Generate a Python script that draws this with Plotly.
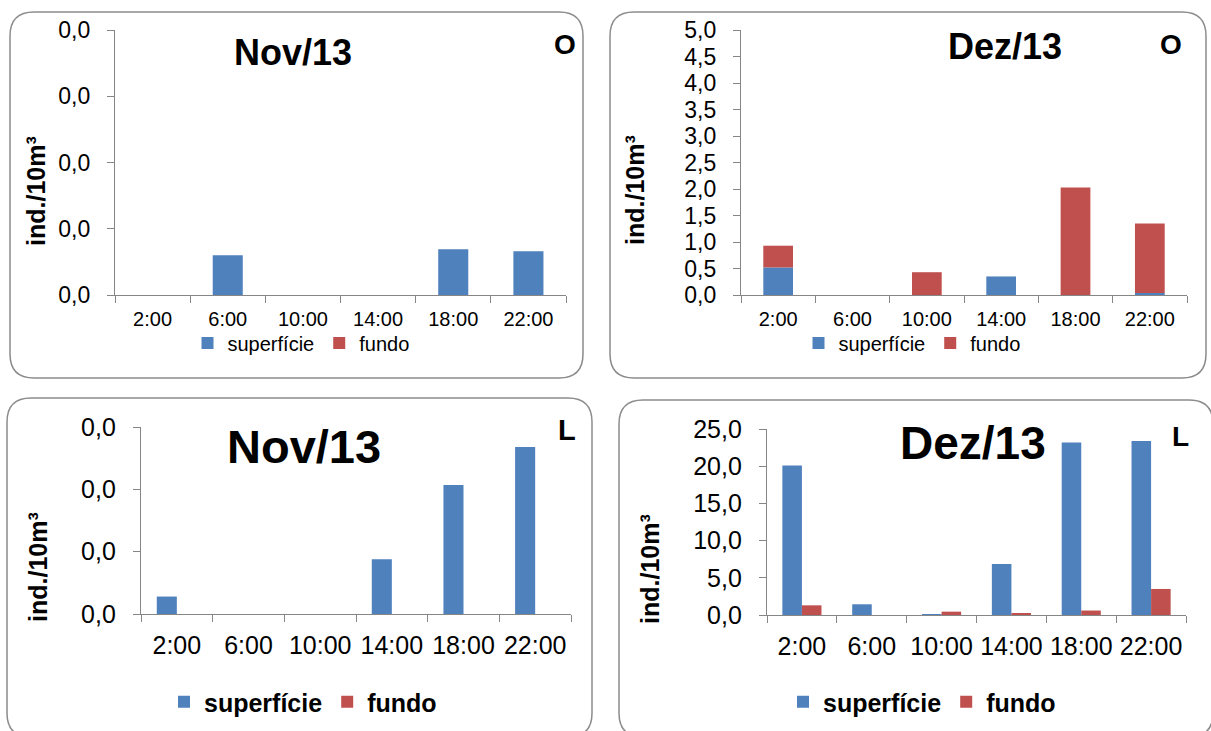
import plotly.graph_objects as go

W, H = 1211, 731
FONT = "Liberation Sans, Arial, sans-serif"
AXIS_GRAY = "#868686"
BLUE = "#4F81BD"
RED = "#C0504D"

horarios = ["2:00", "6:00", "10:00", "14:00", "18:00", "22:00"]
series_names = ["superfície", "fundo"]

# Nov/13 - O (stacked)
nov_o_superficie = [0, 0.0060, 0, 0, 0.0069, 0.0066]
nov_o_fundo = [0, 0, 0, 0, 0, 0]
# Dez/13 - O (stacked)
dez_o_superficie = [0.52, 0, 0, 0.35, 0, 0.04]
dez_o_fundo = [0.41, 0, 0.43, 0, 2.03, 1.31]
# Nov/13 - L (clustered)
nov_l_superficie = [0.0028, 0, 0, 0.0088, 0.0207, 0.0268]
nov_l_fundo = [0, 0, 0, 0, 0, 0]
# Dez/13 - L (clustered)
dez_l_superficie = [20.1, 1.44, 0.1, 6.87, 23.2, 23.4]
dez_l_fundo = [1.3, 0, 0.45, 0.25, 0.6, 3.5]


def px(x):
    return x / W


def py(y):
    return 1 - y / H


panels = [
    dict(sup=nov_o_superficie, fun=nov_o_fundo, stacked=True,
         xdom=(115, 566), ydom=(30, 295), yrange=(0, 0.04), dtick=0.01,
         title="Nov/13", title_xy=(293, 53), title_size=36,
         tag="O", tag_xy=(565, 45), tag_size=28,
         ytitle_xy=(36, 191), ytitle_size=25,
         legend_xy=(301, 343), legend_size=20, legend_bold=False,
         ytick_size=23, xtick_size=20, xstandoff=6),
    dict(sup=dez_o_superficie, fun=dez_o_fundo, stacked=True,
         xdom=(741, 1187), ydom=(30, 295), yrange=(0, 5), dtick=0.5,
         title="Dez/13", title_xy=(1005, 47), title_size=36,
         tag="O", tag_xy=(1171, 45), tag_size=28,
         ytitle_xy=(635, 190), ytitle_size=25,
         legend_xy=(912, 343), legend_size=20, legend_bold=False,
         ytick_size=23, xtick_size=20, xstandoff=6),
    dict(sup=nov_l_superficie, fun=nov_l_fundo, stacked=False,
         xdom=(141, 571), ydom=(427, 614), yrange=(0, 0.03), dtick=0.01,
         title="Nov/13", title_xy=(304, 446), title_size=47,
         tag="L", tag_xy=(567, 430), tag_size=29,
         ytitle_xy=(38, 567), ytitle_size=25,
         legend_xy=(303, 702), legend_size=25, legend_bold=True,
         ytick_size=25, xtick_size=25, xstandoff=9),
    dict(sup=dez_l_superficie, fun=dez_l_fundo, stacked=False,
         xdom=(767, 1186), ydom=(429, 615), yrange=(0, 25), dtick=5,
         title="Dez/13", title_xy=(973, 443), title_size=46,
         tag="L", tag_xy=(1180, 436), tag_size=28,
         ytitle_xy=(650, 569), ytitle_size=25,
         legend_xy=(922, 702), legend_size=25, legend_bold=True,
         ytick_size=25, xtick_size=25, xstandoff=9),
]

fig = go.Figure()
layout = dict(
    width=W, height=H,
    margin=dict(l=0, r=0, t=0, b=0, autoexpand=False),
    paper_bgcolor="white", plot_bgcolor="white",
    barmode="overlay",
    separators=",.",
    showlegend=True,
    annotations=[], shapes=[],
)

for i, p in enumerate(panels, start=1):
    xa = "x" if i == 1 else f"x{i}"
    ya = "y" if i == 1 else f"y{i}"
    lg = "legend" if i == 1 else f"legend{i}"

    if p["stacked"]:
        geo = [dict(width=0.4, offset=-0.2, base=None),
               dict(width=0.4, offset=-0.2, base=p["sup"])]
    else:
        geo = [dict(width=0.28, offset=-0.28, base=None),
               dict(width=0.28, offset=0.0, base=None)]

    for name, vals, color, g in zip(series_names, [p["sup"], p["fun"]],
                                    [BLUE, RED], geo):
        fig.add_trace(go.Bar(
            x=horarios, y=vals, name=name,
            xaxis=xa, yaxis=ya, legend=lg,
            marker=dict(color=color, line=dict(width=0)),
            width=g["width"], offset=g["offset"], base=g["base"],
            hoverinfo="x+y+name",
        ))

    xkey = "xaxis" if i == 1 else f"xaxis{i}"
    ykey = "yaxis" if i == 1 else f"yaxis{i}"
    layout[xkey] = dict(
        domain=[px(p["xdom"][0]), px(p["xdom"][1])],
        anchor=ya, type="category", range=[-0.5, 5.5],
        showline=True, linecolor=AXIS_GRAY, linewidth=1.3,
        ticks="outside", tickson="boundaries", ticklen=7, tickwidth=1.3,
        tickcolor=AXIS_GRAY, showgrid=False, zeroline=False, tickangle=0,
        tickfont=dict(family=FONT, size=p["xtick_size"], color="black"),
        ticklabelstandoff=p["xstandoff"], fixedrange=True,
    )
    n = round((p["yrange"][1] - p["yrange"][0]) / p["dtick"])
    layout[ykey] = dict(
        domain=[py(p["ydom"][1]), py(p["ydom"][0])],
        anchor=xa, range=list(p["yrange"]),
        tickmode="array",
        tickvals=[round(k * p["dtick"], 6) for k in range(n + 1)],
        tickformat=".1f",
        showline=True, linecolor=AXIS_GRAY, linewidth=1.3,
        ticks="outside", ticklen=7, tickwidth=1.3, tickcolor=AXIS_GRAY,
        showgrid=False, zeroline=False,
        tickfont=dict(family=FONT, size=p["ytick_size"], color="black"),
        ticklabelstandoff=12, fixedrange=True,
    )
    layout[lg] = dict(
        orientation="h", xanchor="center", yanchor="middle",
        x=px(p["legend_xy"][0]), y=py(p["legend_xy"][1]),
        bgcolor="rgba(0,0,0,0)", borderwidth=0,
        font=dict(family=FONT, size=p["legend_size"], color="black",
                  weight="bold" if p["legend_bold"] else "normal"),
        traceorder="normal",
    )

    layout["annotations"] += [
        dict(text=f"<b>{p['title']}</b>", x=px(p["title_xy"][0]),
             y=py(p["title_xy"][1]), xref="paper", yref="paper",
             xanchor="center", yanchor="middle", showarrow=False,
             font=dict(family=FONT, size=p["title_size"], color="black")),
        dict(text=f"<b>{p['tag']}</b>", x=px(p["tag_xy"][0]),
             y=py(p["tag_xy"][1]), xref="paper", yref="paper",
             xanchor="center", yanchor="middle", showarrow=False,
             font=dict(family=FONT, size=p["tag_size"], color="black")),
        dict(text="<b>ind./10m³</b>", x=px(p["ytitle_xy"][0]),
             y=py(p["ytitle_xy"][1]), xref="paper", yref="paper",
             xanchor="center", yanchor="middle", showarrow=False,
             textangle=-90,
             font=dict(family=FONT, size=p["ytitle_size"], color="black")),
    ]


def rounded_box(x0, y0, x1, y1, r):
    pts = [
        f"M {px(x0 + r)},{py(y0)}",
        f"L {px(x1 - r)},{py(y0)}",
        f"Q {px(x1)},{py(y0)} {px(x1)},{py(y0 + r)}",
        f"L {px(x1)},{py(y1 - r)}",
        f"Q {px(x1)},{py(y1)} {px(x1 - r)},{py(y1)}",
        f"L {px(x0 + r)},{py(y1)}",
        f"Q {px(x0)},{py(y1)} {px(x0)},{py(y1 - r)}",
        f"L {px(x0)},{py(y0 + r)}",
        f"Q {px(x0)},{py(y0)} {px(x0 + r)},{py(y0)}",
        "Z",
    ]
    return dict(type="path", xref="paper", yref="paper", path=" ".join(pts),
                line=dict(color="#8C8C8C", width=1.5), layer="below")


for box in [(10, 12, 583, 378), (610, 12, 1206, 378),
            (7, 398, 592, 737), (619, 400, 1213, 737)]:
    layout["shapes"].append(rounded_box(*box, 24))

fig.update_layout(**layout)
fig.write_html("out.html")
